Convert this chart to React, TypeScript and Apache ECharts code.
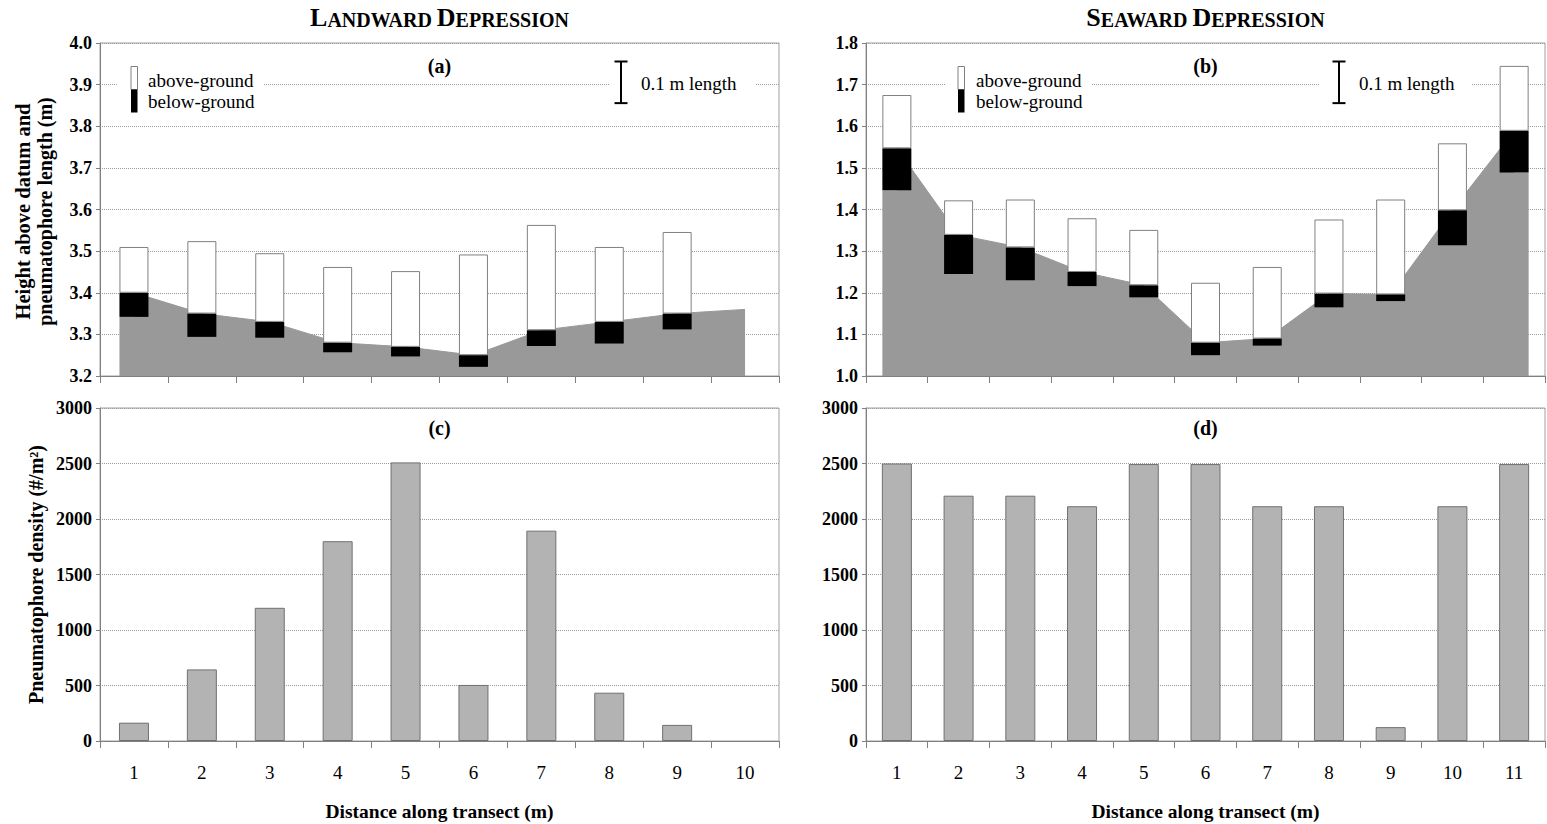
import React, { useEffect, useRef } from "react";
import * as echarts from "echarts";

// ---- data ----
const catsA = ["1", "2", "3", "4", "5", "6", "7", "8", "9", "10"];
const catsB = ["1", "2", "3", "4", "5", "6", "7", "8", "9", "10", "11"];

// (a) landward: ground level (m) and pneumatophore lengths (m)
const groundA = [3.40, 3.35, 3.33, 3.28, 3.27, 3.25, 3.31, 3.33, 3.35, 3.36];
const belowA = [0.058, 0.056, 0.038, 0.023, 0.023, 0.028, 0.038, 0.052, 0.038, null];
const aboveA = [0.11, 0.174, 0.165, 0.182, 0.182, 0.242, 0.253, 0.18, 0.196, null];

// (b) seaward
const groundB = [1.547, 1.339, 1.309, 1.25, 1.218, 1.08, 1.09, 1.198, 1.196, 1.398, 1.589];
const belowB = [0.101, 0.094, 0.079, 0.034, 0.029, 0.03, 0.017, 0.033, 0.016, 0.084, 0.1];
const aboveB = [0.128, 0.083, 0.115, 0.129, 0.133, 0.144, 0.172, 0.178, 0.228, 0.161, 0.156];

// (c), (d) pneumatophore density (#/m2)
const densC = [165, 645, 1200, 1800, 2510, 505, 1895, 435, 145, 0];
const densD = [2500, 2210, 2210, 2115, 2495, 2495, 2115, 2115, 125, 2115, 2495];

const FONT = "'Liberation Serif', 'Times New Roman', Times, serif";
const GROUND_GRAY = "#999999";
const BAR_GRAY = "#b3b3b3";
const AXIS_GRAY = "#808080";
const GRID_GRAY = "#9a9a9a";

// layout
const L1 = 100;
const L2 = 866;
const W = 679;
const T1 = 43;
const T2 = 408;
const H = 333;

function baseOf(ground: (number | null)[], below: (number | null)[]) {
  return ground.map((g, i) => (below[i] == null || g == null ? null : +(g - (below[i] as number)).toFixed(4)));
}

export default function App() {
  const ref = useRef<HTMLDivElement>(null);

  useEffect(() => {
    document.body.style.margin = "0";
    if (!ref.current) return;
    const chart = echarts.init(ref.current, undefined, { renderer: "svg" });

    const grids = [
      { left: L1, top: T1, width: W, height: H },
      { left: L2, top: T1, width: W, height: H },
      { left: L1, top: T2, width: W, height: H },
      { left: L2, top: T2, width: W, height: H },
    ].map((g) => ({ ...g, show: true, borderColor: "#a0a0a0", borderWidth: 1, backgroundColor: "transparent" }));

    const xAxes = [catsA, catsB, catsA, catsB].map((cats, i) => ({
      type: "category",
      gridIndex: i,
      data: cats,
      boundaryGap: true,
      axisLine: { show: true, lineStyle: { color: AXIS_GRAY, width: 1 } },
      axisTick: { show: true, length: 7, lineStyle: { color: AXIS_GRAY } },
      axisLabel: { show: i >= 2, fontFamily: FONT, fontSize: 19, color: "#000", margin: 22 },
      splitLine: { show: false },
      name: i >= 2 ? "Distance along transect (m)" : "",
      nameLocation: "middle",
      nameGap: 60,
      nameTextStyle: { fontFamily: FONT, fontSize: 19.5, fontWeight: "bold", color: "#000" },
    }));

    const yRanges = [
      { min: 3.2, max: 4.0, interval: 0.1, dec: 1 },
      { min: 1.0, max: 1.8, interval: 0.1, dec: 1 },
      { min: 0, max: 3000, interval: 500, dec: 0 },
      { min: 0, max: 3000, interval: 500, dec: 0 },
    ];
    const yAxes = yRanges.map((r, i) => ({
      type: "value",
      gridIndex: i,
      min: r.min,
      max: r.max,
      interval: r.interval,
      axisLine: { show: true, lineStyle: { color: AXIS_GRAY, width: 1 } },
      axisTick: { show: true, length: 4, lineStyle: { color: AXIS_GRAY } },
      axisLabel: {
        fontFamily: FONT,
        fontSize: 18,
        fontWeight: "bold",
        color: "#000",
        margin: 8,
        formatter: (v: number) => v.toFixed(r.dec),
      },
      splitLine: { show: true, lineStyle: { type: "dotted", color: GRID_GRAY, width: 1 } },
    }));

    const heightSeries = (idx: number, ground: any[], below: any[], above: any[]) => [
      {
        type: "line",
        xAxisIndex: idx,
        yAxisIndex: idx,
        data: ground,
        symbol: "none",
        lineStyle: { color: GROUND_GRAY, width: 1 },
        areaStyle: { color: GROUND_GRAY, opacity: 1, origin: "start" },
        z: 1,
      },
      {
        type: "bar",
        xAxisIndex: idx,
        yAxisIndex: idx,
        stack: "h" + idx,
        data: baseOf(ground, below),
        barWidth: 29,
        itemStyle: { color: GROUND_GRAY },
        clip: true,
        z: 3,
      },
      {
        type: "bar",
        xAxisIndex: idx,
        yAxisIndex: idx,
        stack: "h" + idx,
        data: below,
        barWidth: 29,
        itemStyle: { color: "#000" },
        clip: true,
        z: 3,
      },
      {
        type: "bar",
        xAxisIndex: idx,
        yAxisIndex: idx,
        stack: "h" + idx,
        data: above,
        barWidth: 29,
        itemStyle: { color: "#fff", borderColor: AXIS_GRAY, borderWidth: 1 },
        clip: true,
        z: 3,
      },
    ];

    const densSeries = (idx: number, data: number[]) => ({
      type: "bar",
      xAxisIndex: idx,
      yAxisIndex: idx,
      data: data.map((v) => (v === 0 ? { value: 0, itemStyle: { borderWidth: 0, color: "transparent" } } : v)),
      barWidth: 30,
      itemStyle: { color: BAR_GRAY, borderColor: "#707070", borderWidth: 1 },
      z: 3,
    });

    // scale bar height: 0.1 m in pixels
    const scaleH = (H * 0.1) / (yRanges[0].max - yRanges[0].min);

    const txt = (text: string, x: number, y: number, size: number, bold = false, extra: any = {}) => ({
      type: "text",
      z: 101,
      x,
      y,
      style: {
        text,
        fontFamily: FONT,
        fontSize: size,
        fontWeight: bold ? "bold" : "normal",
        fill: "#000",
        align: "left",
        verticalAlign: "middle",
        ...extra,
      },
    });

    const legend = (boxX: number, boxW: number, iconX: number, textX: number) => [
      { type: "rect", z: 100, shape: { x: boxX, y: 62, width: boxW, height: 52 }, style: { fill: "#fff" } },
      { type: "rect", z: 101, shape: { x: iconX, y: 66.5, width: 6.5, height: 23 }, style: { fill: "#fff", stroke: AXIS_GRAY, lineWidth: 1 } },
      { type: "rect", z: 101, shape: { x: iconX, y: 89.5, width: 6.5, height: 23 }, style: { fill: "#000" } },
      txt("above-ground", textX, 80, 19),
      txt("below-ground", textX, 101.5, 19),
    ];

    const scaleBar = (boxX: number, boxW: number, barX: number, textX: number) => {
      const top = 61.5;
      const bot = top + scaleH;
      return [
        { type: "rect", z: 100, shape: { x: boxX, y: 60, width: boxW, height: 48 }, style: { fill: "#fff" } },
        { type: "line", z: 101, shape: { x1: barX, y1: top, x2: barX, y2: bot }, style: { stroke: "#000", lineWidth: 2 } },
        { type: "line", z: 101, shape: { x1: barX - 6.5, y1: top, x2: barX + 6.5, y2: top }, style: { stroke: "#000", lineWidth: 2 } },
        { type: "line", z: 101, shape: { x1: barX - 6.5, y1: bot, x2: barX + 6.5, y2: bot }, style: { stroke: "#000", lineWidth: 2 } },
        txt("0.1 m length", textX, 83, 19),
      ];
    };

    const smallCaps = (first: string, rest1: string, second: string, rest2: string, cx: number) => ({
      type: "text",
      z: 101,
      x: cx,
      y: 17,
      style: {
        text: `{b|${first}}{s|${rest1} }{b|${second}}{s|${rest2}}`,
        align: "center",
        verticalAlign: "middle",
        fill: "#000",
        rich: {
          b: { fontFamily: FONT, fontSize: 26, fontWeight: "bold", fill: "#000", verticalAlign: "bottom" },
          s: { fontFamily: FONT, fontSize: 20, fontWeight: "bold", fill: "#000", verticalAlign: "bottom" },
        },
      },
    });

    const cA = L1 + W / 2;
    const cB = L2 + W / 2;

    const graphic = [
      smallCaps("L", "ANDWARD", "D", "EPRESSION", cA),
      smallCaps("S", "EAWARD", "D", "EPRESSION", cB),
      txt("(a)", cA, 66, 20, true, { align: "center" }),
      txt("(b)", cB, 66, 20, true, { align: "center" }),
      txt("(c)", cA, 428, 20, true, { align: "center" }),
      txt("(d)", cB, 428, 20, true, { align: "center" }),
      ...legend(117, 147, 131, 148),
      ...legend(945, 147, 958, 976),
      ...scaleBar(609, 147, 621, 641),
      ...scaleBar(1320, 152, 1339, 1359),
      {
        type: "text",
        z: 101,
        x: 23,
        y: T1 + H / 2 + 2,
        rotation: Math.PI / 2,
        style: { text: "Height above datum and", fontFamily: FONT, fontSize: 20.5, fontWeight: "bold", fill: "#000", align: "center", verticalAlign: "middle" },
      },
      {
        type: "text",
        z: 101,
        x: 45,
        y: T1 + H / 2 + 2,
        rotation: Math.PI / 2,
        style: { text: "pneumatophore length (m)", fontFamily: FONT, fontSize: 20, fontWeight: "bold", fill: "#000", align: "center", verticalAlign: "middle" },
      },
      {
        type: "text",
        z: 101,
        x: 36,
        y: T2 + H / 2,
        rotation: Math.PI / 2,
        style: { text: "Pneumatophore density (#/m²)", fontFamily: FONT, fontSize: 20, fontWeight: "bold", fill: "#000", align: "center", verticalAlign: "middle" },
      },
    ];

    chart.setOption({
      animation: false,
      backgroundColor: "#fff",
      grid: grids,
      xAxis: xAxes,
      yAxis: yAxes,
      series: [
        ...heightSeries(0, groundA, belowA, aboveA),
        ...heightSeries(1, groundB, belowB, aboveB),
        densSeries(2, densC),
        densSeries(3, densD),
      ],
      graphic,
    });

    return () => chart.dispose();
  }, []);

  return <div ref={ref} style={{ width: 1547, height: 824 }} />;
}
